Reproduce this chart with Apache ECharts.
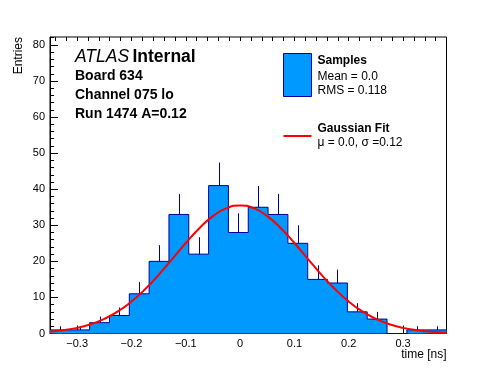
<!DOCTYPE html>
<html>
<head>
<meta charset="utf-8">
<script src="https://cdn.jsdelivr.net/npm/echarts@6/dist/echarts.min.js"></script>
<style>html,body{margin:0;padding:0;background:#fff;}#c{width:496px;height:372px;}</style>
</head>
<body>
<div id="c"></div>
<script>
// ---- data ----
const xMin = -0.35, xMax = 0.38;
const yMin = 0, yMax = 82.2;
const binEdges = [-0.35, -0.3135, -0.277, -0.2405, -0.204, -0.1675, -0.131, -0.0945, -0.058, -0.0215,
                  0.015, 0.0515, 0.088, 0.1245, 0.161, 0.1975, 0.234, 0.2705, 0.307, 0.3435, 0.38];
const counts = [1, 1, 3, 5, 11, 20, 33, 22, 41, 28, 35, 33, 25, 15, 14, 6, 4, 0, 1, 1];
const errors = [1, 1, 1.7, 2.2, 3.3, 4.5, 5.7, 4.7, 6.4, 5.3, 5.9, 5.7, 5, 3.9, 3.7, 2.4, 2, 0, 1, 1];
const fitX = [-0.35, -0.325, -0.3, -0.275, -0.25, -0.225, -0.2, -0.175, -0.15, -0.125, -0.1, -0.075, -0.05, -0.025,
              0, 0.025, 0.05, 0.075, 0.1, 0.125, 0.15, 0.175, 0.2, 0.225, 0.25, 0.275, 0.3, 0.325, 0.35, 0.375, 0.38];
const fitY = [0.50, 0.91, 1.56, 2.57, 4.05, 6.12, 8.85, 12.26, 16.25, 20.64, 25.08, 29.20, 32.55, 34.74,
              35.5, 34.74, 32.55, 29.20, 25.08, 20.64, 16.25, 12.26, 8.85, 6.12, 4.05, 2.57, 1.56, 0.91, 0.50, 0.27, 0.24];
const xMajorTicks = [-0.3, -0.2, -0.1, 0, 0.1, 0.2, 0.3];
const yMajorTicks = [0, 10, 20, 30, 40, 50, 60, 70, 80];
const xTitle = 'time [ns]';
const yTitle = 'Entries';

// ---- build ----
const xMinorTicks = [];
for (let k = -17; k <= 19; k++) { const v = +(k * 0.02).toFixed(2); if (v > xMin && v < xMax) xMinorTicks.push(v); }
const yMinorTicks = [];
for (let k = 0; k <= 41; k++) yMinorTicks.push(k * 2);

const FONT = "'Liberation Sans', Arial, Helvetica, sans-serif";
const FILL = '#0099ff', EDGE = '#000099';

const histData = binEdges.map((e, i) => [e, counts[Math.min(i, counts.length - 1)]]);
const errData = counts.map((c, i) => [(binEdges[i] + binEdges[i + 1]) / 2, c, errors[i]]);
const fitData = fitX.map((x, i) => [x, fitY[i]]);

const fmtX = v => (v < 0 ? '\u2212' + Math.abs(v) : String(v));

const baseX = {type: 'value', min: xMin, max: xMax, gridIndex: 0, splitLine: {show: false}};
const baseY = {type: 'value', min: yMin, max: yMax, gridIndex: 0, splitLine: {show: false}};

const chart = echarts.init(document.getElementById('c'), null, {renderer: 'canvas'});
chart.setOption({
  animation: false,
  backgroundColor: '#fff',
  grid: {left: 50, right: 49.5, top: 37, bottom: 38.5, containLabel: false, show: true, borderColor: '#000', borderWidth: 1, backgroundColor: 'transparent'},
  xAxis: [
    Object.assign({}, baseX, {
      axisLine: {show: true, onZero: false, lineStyle: {color: '#000', width: 1}},
      axisTick: {show: true, inside: true, length: 8, customValues: xMajorTicks, lineStyle: {color: '#000'}},
      axisLabel: {show: true, customValues: xMajorTicks, formatter: fmtX, margin: 5, color: '#000', fontFamily: FONT, fontSize: 11}
    }),
    Object.assign({}, baseX, {
      axisLine: {show: false, onZero: false},
      axisTick: {show: true, inside: true, length: 4, customValues: xMinorTicks, lineStyle: {color: '#000'}},
      axisLabel: {show: false}
    })
  ],
  yAxis: [
    Object.assign({}, baseY, {
      axisLine: {show: true, onZero: false, lineStyle: {color: '#000', width: 1}},
      axisTick: {show: true, inside: true, length: 8, customValues: yMajorTicks, lineStyle: {color: '#000'}},
      axisLabel: {show: true, customValues: yMajorTicks, margin: 5, color: '#000', fontFamily: FONT, fontSize: 11}
    }),
    Object.assign({}, baseY, {
      position: 'left',
      axisLine: {show: false, onZero: false},
      axisTick: {show: true, inside: true, length: 4, customValues: yMinorTicks, lineStyle: {color: '#000'}},
      axisLabel: {show: false}
    })
  ],
  series: [
    {
      type: 'custom', xAxisIndex: 0, yAxisIndex: 0, z: 1,
      data: errData,
      renderItem: function (params, api) {
        const x = api.value(0), v = api.value(1), e = api.value(2);
        if (!e) return null;
        const p0 = api.coord([x, v - e]);
        const p1 = api.coord([x, v + e]);
        const px = Math.round(p0[0]) + 0.5;
        return {type: 'line', shape: {x1: px, y1: p0[1], x2: px, y2: p1[1]}, style: {stroke: EDGE, lineWidth: 1}};
      }
    },
    {
      type: 'line', xAxisIndex: 0, yAxisIndex: 0, z: 2,
      data: histData, step: 'end', symbol: 'none',
      lineStyle: {color: EDGE, width: 1},
      areaStyle: {color: FILL, opacity: 1},
      silent: true
    },
    {
      type: 'line', xAxisIndex: 0, yAxisIndex: 0, z: 3,
      data: fitData, smooth: true, symbol: 'none',
      lineStyle: {color: '#ff0000', width: 2},
      silent: true
    }
  ],
  graphic: [
    {type: 'text', x: 75, y: 57, z: 10, style: {text: '{a|ATLAS} {b|Internal}', verticalAlign: 'middle', fill: '#000',
      rich: {a: {fontFamily: FONT, fontStyle: 'italic', fontSize: 17.5, fill: '#000'}, b: {fontFamily: FONT, fontWeight: 'bold', fontSize: 17.5, fill: '#000'}}}},
    {type: 'text', x: 75, y: 76, z: 10, style: {text: 'Board 634', font: 'bold 14px ' + FONT, fill: '#000', verticalAlign: 'middle'}},
    {type: 'text', x: 75, y: 95, z: 10, style: {text: 'Channel 075 lo', font: 'bold 14px ' + FONT, fill: '#000', verticalAlign: 'middle'}},
    {type: 'text', x: 75, y: 114.3, z: 10, style: {text: 'Run 1474 A=0.12', font: 'bold 14px ' + FONT, fill: '#000', verticalAlign: 'middle'}},
    {type: 'rect', z: 10, shape: {x: 283.5, y: 53.5, width: 28, height: 43}, style: {fill: FILL, stroke: EDGE, lineWidth: 1}},
    {type: 'text', x: 317.5, y: 61, z: 10, style: {text: 'Samples', font: 'bold 12px ' + FONT, fill: '#000', verticalAlign: 'middle'}},
    {type: 'text', x: 317.5, y: 76.5, z: 10, style: {text: 'Mean = 0.0', font: '12px ' + FONT, fill: '#000', verticalAlign: 'middle'}},
    {type: 'text', x: 317.5, y: 90.5, z: 10, style: {text: 'RMS = 0.118', font: '12px ' + FONT, fill: '#000', verticalAlign: 'middle'}},
    {type: 'line', z: 10, shape: {x1: 283.5, y1: 136, x2: 311.5, y2: 136}, style: {stroke: '#ff0000', lineWidth: 2}},
    {type: 'text', x: 317.5, y: 129, z: 10, style: {text: 'Gaussian Fit', font: 'bold 12px ' + FONT, fill: '#000', verticalAlign: 'middle'}},
    {type: 'text', x: 317.5, y: 142.5, z: 10, style: {text: '\u03bc = 0.0, \u03c3 =0.12', font: '12px ' + FONT, fill: '#000', verticalAlign: 'middle'}},
    {type: 'text', x: 446.5, y: 355, z: 10, style: {text: xTitle, font: '12px ' + FONT, fill: '#000', align: 'right', verticalAlign: 'middle'}},
    {type: 'text', x: 19, y: 37, rotation: Math.PI / 2, z: 10, style: {text: yTitle, font: '12px ' + FONT, fill: '#000', align: 'right', verticalAlign: 'middle'}}
  ]
});
</script>
</body>
</html>
